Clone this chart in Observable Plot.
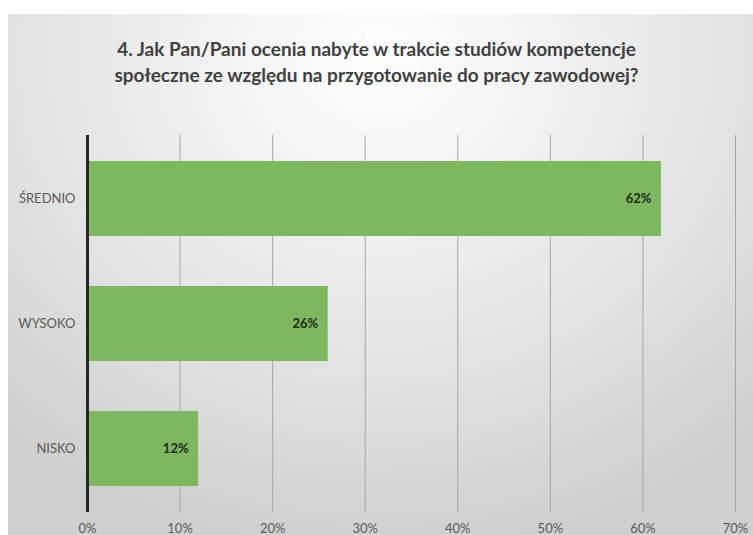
<!DOCTYPE html>
<html>
<head>
<meta charset="utf-8">
<script src="https://cdn.jsdelivr.net/npm/d3@7"></script>
<script src="https://cdn.jsdelivr.net/npm/@observablehq/plot@0.6"></script>
<style>
  html, body { margin: 0; padding: 0; background: #ffffff; }
  #wrap { position: relative; width: 753px; height: 535px; overflow: hidden; background: #ffffff; }
  #panel { position: absolute; left: 8px; top: 14px; width: 745px; height: 521px;
    background: radial-gradient(ellipse 75% 95% at 50% 8%, #ffffff 0%, #f2f2f2 30%, #e2e2e2 65%, #cfcfcf 100%); }
  #title { position: absolute; left: 0; top: 36px; width: 753px; text-align: center;
    font-family: Lato, "Open Sans", sans-serif; font-weight: bold; font-size: 19px; line-height: 26px; color: #404040; }
  #chart { position: absolute; left: 0; top: 118px; }
</style>
</head>
<body>
<div id="wrap">
  <div id="panel"></div>
  <div id="title">4. Jak Pan/Pani ocenia nabyte w trakcie studiów kompetencje<br>społeczne ze względu na przygotowanie do pracy zawodowej?</div>
  <div id="chart"></div>
</div>
<script>
const categories = ["ŚREDNIO", "WYSOKO", "NISKO"];
const values = [0.62, 0.26, 0.12];
const xTicks = [0, 0.1, 0.2, 0.3, 0.4, 0.5, 0.6, 0.7];

const data = categories.map((c, i) => ({category: c, value: values[i]}));

const chart = Plot.plot({
  width: 753,
  height: 417,
  marginLeft: 87,
  marginRight: 18,
  marginTop: 17,
  marginBottom: 23,
  style: {background: "transparent", fontFamily: "Lato, 'Open Sans', sans-serif", fontSize: "13px", color: "#595959"},
  x: {domain: [0, 0.7]},
  y: {domain: categories, paddingInner: 0.4, paddingOuter: 0.2},
  marks: [
    Plot.ruleX(xTicks.filter(d => d > 0), {stroke: "#a6a6a6", strokeWidth: 1}),
    Plot.barX(data, {x: "value", y: "category", fill: "#7db760"}),
    Plot.ruleX([0], {stroke: "#262626", strokeWidth: 3}),
    Plot.text(data, {x: "value", y: "category", text: d => Math.round(d.value * 100) + "%", textAnchor: "end", dx: -10, fontWeight: "bold", fill: "#1e2a16", fontSize: 13}),
    Plot.axisX({ticks: xTicks, tickFormat: d => Math.round(d * 100) + "%", tickSize: 0, tickPadding: 11, label: null, fill: "#595959", fontSize: 13}),
    Plot.axisY({tickSize: 0, tickPadding: 12, label: null, fill: "#595959", fontSize: 13})
  ]
});
document.getElementById("chart").appendChild(chart);
</script>
</body>
</html>
